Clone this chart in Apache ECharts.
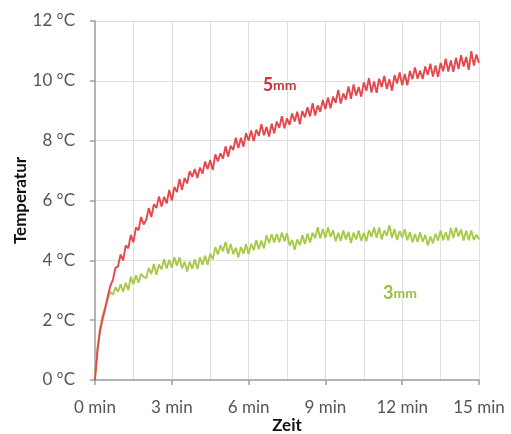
<!DOCTYPE html>
<html>
<head>
<meta charset="utf-8">
<script src="https://cdn.jsdelivr.net/npm/echarts@6/dist/echarts.min.js"></script>
<style>
html,body{margin:0;padding:0;background:#ffffff;}
#chart{width:511px;height:434px;}
</style>
</head>
<body>
<div id="chart"></div>
<script>
// sampling step of the measured series (minutes)
const timeStepMin = 0.1;

// 5 mm sample, °C, one value every 0.1 min from 0 to 15 min
const temp5mm = [
  0.0, 1.0, 1.65, 2.05, 2.4, 2.8, 3.15, 3.35, 3.75, 3.8,
  4.2, 4.0, 4.5, 4.4, 4.85, 4.6, 5.1, 5.0, 5.45, 5.2,
  5.35, 5.75, 5.45, 5.87, 5.75, 6.13, 5.8, 6.12, 5.9, 6.35,
  6.0, 6.45, 6.28, 6.72, 6.36, 6.75, 6.57, 6.98, 6.79, 7.05,
  6.75, 7.1, 6.9, 7.3, 7.05, 7.35, 7.02, 7.54, 7.31, 7.58,
  7.4, 7.81, 7.47, 7.83, 7.69, 8.1, 7.75, 8.1, 7.8, 8.25,
  8.0, 8.34, 7.98, 8.37, 8.16, 8.55, 8.18, 8.46, 8.14, 8.57,
  8.25, 8.64, 8.43, 8.82, 8.41, 8.75, 8.53, 8.91, 8.64, 8.97,
  8.55, 8.99, 8.78, 9.12, 8.81, 9.25, 8.84, 9.18, 8.97, 9.36,
  9.05, 9.44, 9.08, 9.47, 9.26, 9.7, 9.24, 9.58, 9.37, 9.81,
  9.4, 9.88, 9.51, 9.79, 9.47, 9.95, 9.67, 10.09, 9.61, 9.98,
  9.6, 10.07, 9.79, 10.16, 9.73, 10.05, 9.67, 10.19, 9.91, 10.28,
  9.85, 10.23, 9.85, 10.33, 10.05, 10.45, 10.07, 10.34, 10.06, 10.48,
  10.2, 10.57, 10.14, 10.51, 10.13, 10.6, 10.32, 10.74, 10.31, 10.68,
  10.3, 10.77, 10.39, 10.86, 10.48, 10.8, 10.37, 10.99, 10.51, 10.88,
  10.6
];

// 3 mm sample, °C, one value every 0.1 min from 0 to 15 min
const temp3mm = [
  0.2, 1.1, 1.75, 2.15, 2.45, 2.7, 2.95, 2.85, 3.1, 2.95,
  3.2, 2.95, 3.25, 3.0, 3.45, 3.2, 3.5, 3.25, 3.55, 3.45,
  3.4, 3.75, 3.54, 3.88, 3.52, 3.86, 3.7, 4.04, 3.73, 4.02,
  3.75, 4.1, 3.82, 4.1, 3.73, 3.95, 3.63, 3.95, 3.72, 4.04,
  3.71, 4.1, 3.85, 4.15, 3.85, 4.22, 4.03, 4.44, 4.2, 4.5,
  4.3, 4.62, 4.22, 4.55, 4.21, 4.42, 4.1, 4.45, 4.22, 4.54,
  4.21, 4.55, 4.34, 4.68, 4.37, 4.66, 4.4, 4.84, 4.58, 4.87,
  4.6, 4.88, 4.6, 4.93, 4.64, 4.9, 4.49, 4.68, 4.35, 4.7,
  4.5, 4.85, 4.55, 4.9, 4.6, 4.92, 4.74, 5.11, 4.73, 5.05,
  4.75, 5.1, 4.78, 5.01, 4.64, 4.92, 4.65, 5.0, 4.7, 4.95,
  4.58, 4.93, 4.7, 5.0, 4.65, 4.92, 4.64, 5.01, 4.78, 5.1,
  4.75, 5.1, 4.7, 5.0, 4.82, 5.17, 4.75, 5.05, 4.68, 4.98,
  4.76, 5.04, 4.67, 4.95, 4.6, 4.88, 4.61, 4.94, 4.62, 4.85,
  4.5, 4.8, 4.57, 4.89, 4.66, 5.0, 4.67, 4.94, 4.66, 5.08,
  4.75, 5.1, 4.8, 5.03, 4.66, 4.99, 4.67, 5.0, 4.68, 4.86,
  4.7
];

// axis ranges / ticks
const xTicks = [0, 3, 6, 9, 12, 15];          // minutes
const yTicks = [0, 2, 4, 6, 8, 10, 12];       // °C

// series labels (in data coordinates: [minutes, °C])
const seriesNames = ['5mm', '3mm'];
const labelAnchors = { red: [6.55, 9.85], green: [11.25, 2.9] };

const toPairs = arr => arr.map((v, i) => [+(i * timeStepMin).toFixed(2), v]);

const chart = echarts.init(document.getElementById('chart'), null, { renderer: 'canvas' });
const FONT = 'Lato';

chart.setOption({
  backgroundColor: '#ffffff',
  animation: false,
  grid: { left: 95, right: 32, top: 21, bottom: 54, containLabel: false, outerBoundsMode: 'none' },
  xAxis: {
    type: 'value',
    min: xTicks[0], max: xTicks[xTicks.length - 1], interval: 3,
    name: 'Zeit', nameLocation: 'middle', nameGap: 37, nameMoveOverlap: false,
    nameTextStyle: { fontFamily: FONT, fontWeight: 'bold', fontSize: 17, color: '#111' },
    axisLine: { show: true, lineStyle: { color: '#a0a0a0', width: 1.5 } },
    axisTick: { show: true, length: 5, inside: false, lineStyle: { color: '#a0a0a0', width: 1.5 } },
    axisLabel: { formatter: '{value} min', margin: 19, fontFamily: FONT, fontSize: 17, color: '#555' },
    splitLine: { show: true, lineStyle: { color: '#e0e0e0', width: 1 } },
    minorTick: { show: false, splitNumber: 2 },
    minorSplitLine: { show: true, lineStyle: { color: '#e0e0e0', width: 1 } }
  },
  yAxis: {
    type: 'value',
    min: yTicks[0], max: yTicks[yTicks.length - 1], interval: 2,
    name: 'Temperatur', nameLocation: 'middle', nameGap: 66, nameRotate: 90, nameMoveOverlap: false,
    nameTextStyle: { fontFamily: FONT, fontWeight: 'bold', fontSize: 17, color: '#111' },
    axisLine: { show: true, lineStyle: { color: '#a0a0a0', width: 1.5 } },
    axisTick: { show: true, length: 5, inside: false, lineStyle: { color: '#a0a0a0', width: 1.5 } },
    axisLabel: { formatter: '{value} °C', margin: 20, fontFamily: FONT, fontSize: 17, color: '#555' },
    splitLine: { show: true, lineStyle: { color: '#e0e0e0', width: 1 } }
  },
  series: [
    {
      name: seriesNames[0], type: 'line', data: toPairs(temp5mm),
      showSymbol: false, symbol: 'none', z: 3,
      lineStyle: { color: '#e5474c', width: 1.9 },
      markPoint: {
        symbol: 'circle', symbolSize: 0, silent: true,
        data: [{ coord: labelAnchors.red }],
        label: {
          show: true, position: 'right', distance: 0,
          formatter: '{a|5}{b|mm}',
          rich: {
            a: { fontFamily: FONT, fontWeight: 'bold', fontSize: 18, color: '#c8373b' },
            b: { fontFamily: FONT, fontWeight: 'bold', fontSize: 14, color: '#c8373b' }
          }
        }
      }
    },
    {
      name: seriesNames[1], type: 'line', data: toPairs(temp3mm),
      showSymbol: false, symbol: 'none', z: 2,
      lineStyle: { color: '#a8c94a', width: 1.9 },
      markPoint: {
        symbol: 'circle', symbolSize: 0, silent: true,
        data: [{ coord: labelAnchors.green }],
        label: {
          show: true, position: 'right', distance: 0,
          formatter: '{a|3}{b|mm}',
          rich: {
            a: { fontFamily: FONT, fontWeight: 'bold', fontSize: 18, color: '#9cc03e' },
            b: { fontFamily: FONT, fontWeight: 'bold', fontSize: 14, color: '#9cc03e' }
          }
        }
      }
    }
  ]
});
</script>
</body>
</html>
